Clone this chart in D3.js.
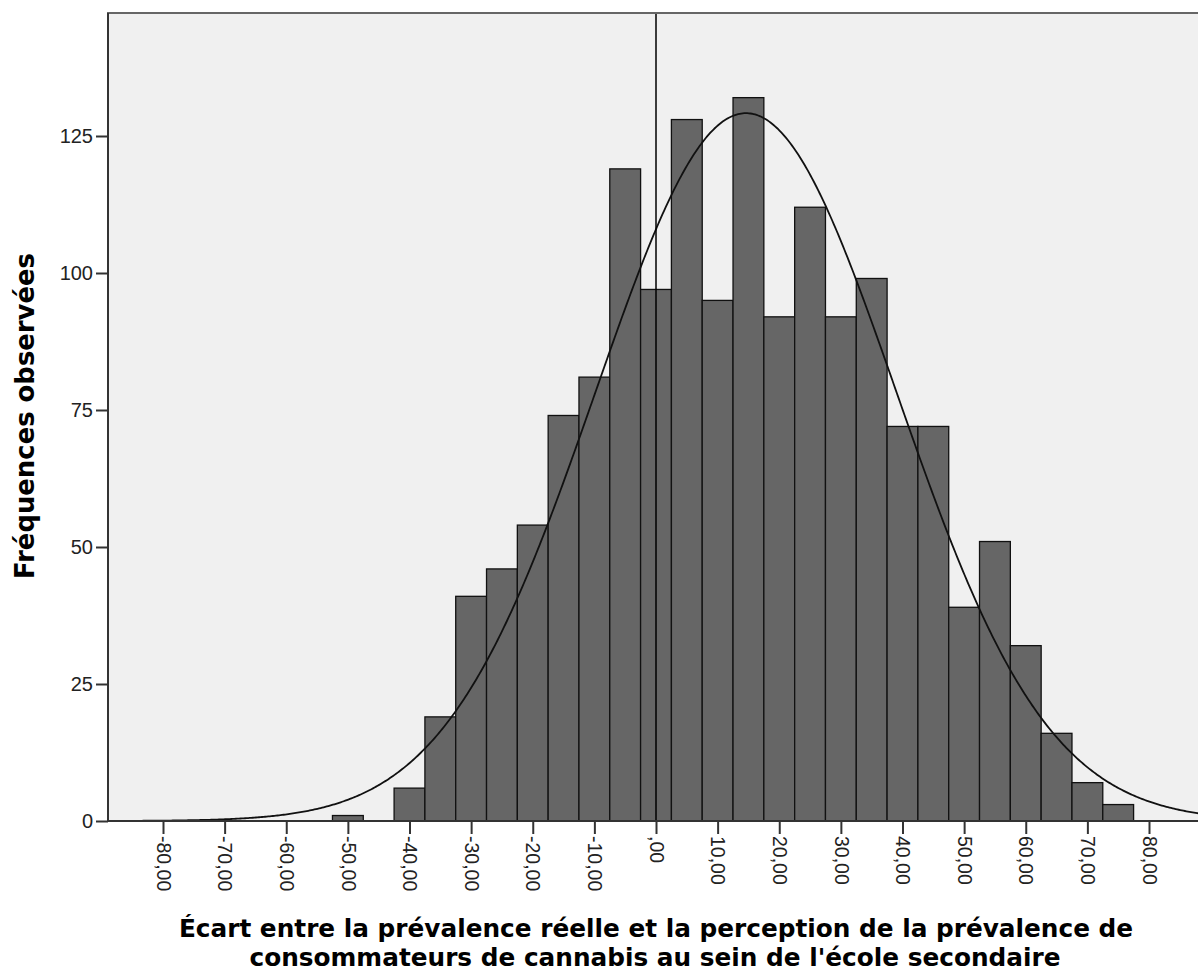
<!DOCTYPE html>
<html>
<head>
<meta charset="utf-8">
<script src="https://cdn.jsdelivr.net/npm/d3@7"></script>
<style>
  html, body { margin: 0; padding: 0; background: #ffffff; }
  svg { display: block; }
</style>
</head>
<body>
<svg id="chart" width="1198" height="974"></svg>
<script>
// ---- Data ----
const binCenters = [-50, -45, -40, -35, -30, -25, -20, -15, -10, -5, 0, 5, 10, 15, 20, 25, 30, 35, 40, 45, 50, 55, 60, 65, 70, 75];
const binCounts  = [1, 0, 6, 19, 41, 46, 54, 74, 81, 119, 97, 128, 95, 132, 92, 112, 92, 99, 72, 72, 39, 51, 32, 16, 7, 3];
const binWidth = 5;
const xTickValues = [-80, -70, -60, -50, -40, -30, -20, -10, 0, 10, 20, 30, 40, 50, 60, 70, 80];
const xTickLabels = ["-80,00", "-70,00", "-60,00", "-50,00", "-40,00", "-30,00", "-20,00", "-10,00", ",00", "10,00", "20,00", "30,00", "40,00", "50,00", "60,00", "70,00", "80,00"];
const yTickValues = [0, 25, 50, 75, 100, 125];
const normalMean = 14.6;
const normalSd = 24.4;
const yTitle = "Fréquences observées";
const xTitleLines = ["Écart entre la prévalence réelle et la perception de la prévalence de",
                     "consommateurs de cannabis au sein de l'école secondaire"];

// ---- Layout ----
const svg = d3.select("#chart");
const plotLeft = 108, plotTop = 13, plotBottom = 821, plotRight = 1215;
const x = d3.scaleLinear().domain([-80, 80]).range([163, 1149]);
const y = d3.scaleLinear().domain([0, 125]).range([821, 136]);

// plot background
svg.append("rect").attr("x", plotLeft).attr("y", plotTop)
  .attr("width", plotRight - plotLeft).attr("height", plotBottom - plotTop)
  .attr("fill", "#f0f0f0");

// bars
const bins = binCenters.map((c, i) => ({ c, n: binCounts[i] })).filter(d => d.n > 0);
svg.append("g").selectAll("rect").data(bins).join("rect")
  .attr("x", d => x(d.c - binWidth / 2))
  .attr("y", d => y(d.n))
  .attr("width", d => x(d.c + binWidth / 2) - x(d.c - binWidth / 2))
  .attr("height", d => y(0) - y(d.n))
  .attr("fill", "#666666")
  .attr("stroke", "#111111")
  .attr("stroke-width", 1.3);

// normal curve
const total = d3.sum(binCounts);
const xMin = x.invert(plotLeft), xMax = x.invert(plotRight);
const curvePts = d3.range(xMin, xMax + 0.25, 0.25).map(v => {
  const z = (v - normalMean) / normalSd;
  return [v, total * binWidth / (normalSd * Math.sqrt(2 * Math.PI)) * Math.exp(-0.5 * z * z)];
});
svg.append("path").datum(curvePts)
  .attr("d", d3.line().x(d => x(d[0])).y(d => y(d[1])).curve(d3.curveLinear))
  .attr("fill", "none").attr("stroke", "#111111").attr("stroke-width", 1.8);

// reference line at 0
svg.append("line").attr("x1", x(0)).attr("x2", x(0))
  .attr("y1", plotTop).attr("y2", plotBottom)
  .attr("stroke", "#000").attr("stroke-width", 1.5);

// frame top
svg.append("line").attr("x1", plotLeft - 1).attr("x2", 1198)
  .attr("y1", plotTop).attr("y2", plotTop)
  .attr("stroke", "#666").attr("stroke-width", 2.2);

// y axis
const yAxis = d3.axisLeft(y).tickValues(yTickValues).tickSize(12).tickPadding(3).tickFormat(d3.format("d"));
const gy = svg.append("g").attr("transform", `translate(${plotLeft},0)`).call(yAxis);
gy.select(".domain").remove();
gy.selectAll(".tick line").attr("stroke", "#333").attr("stroke-width", 2);
gy.selectAll(".tick text").attr("font-family", "'Liberation Sans', Arial, sans-serif")
  .attr("font-size", 20).attr("fill", "#222");
svg.append("line").attr("x1", plotLeft).attr("x2", plotLeft)
  .attr("y1", plotTop).attr("y2", plotBottom + 1)
  .attr("stroke", "#333").attr("stroke-width", 2);

// x axis
const xAxis = d3.axisBottom(x).tickValues(xTickValues).tickSize(13)
  .tickFormat((d, i) => xTickLabels[i]);
const gx = svg.append("g").attr("transform", `translate(0,${plotBottom})`).call(xAxis);
gx.select(".domain").remove();
gx.selectAll(".tick line").attr("stroke", "#333").attr("stroke-width", 2);
gx.selectAll(".tick text")
  .attr("font-family", "'Liberation Sans', Arial, sans-serif")
  .attr("font-size", 19.5).attr("fill", "#222")
  .attr("text-anchor", "start")
  .attr("transform", "rotate(90)")
  .attr("x", 15).attr("y", 0).attr("dy", "0.35em");
svg.append("line").attr("x1", plotLeft - 1).attr("x2", 1198)
  .attr("y1", plotBottom).attr("y2", plotBottom)
  .attr("stroke", "#333").attr("stroke-width", 2);

// titles
const titleFont = "'DejaVu Sans', Verdana, sans-serif";
const yt = svg.append("text")
  .attr("transform", "translate(34,416) rotate(-90)")
  .attr("text-anchor", "middle")
  .attr("font-family", titleFont).attr("font-weight", "bold")
  .attr("font-size", 20).attr("fill", "#000")
  .text(yTitle);
{
  const len = yt.node().getComputedTextLength();
  yt.attr("font-size", 20 * 326 / len);
}

// x title: one text element, two lines
const xt = svg.append("text")
  .attr("text-anchor", "middle")
  .attr("font-family", titleFont).attr("font-weight", "bold")
  .attr("font-size", 20).attr("fill", "#000");
const line1 = xt.append("tspan").attr("x", 656).attr("y", 937).text(xTitleLines[0]);
{
  const len = line1.node().getComputedTextLength();
  xt.attr("font-size", 20 * 955 / len);
}
xt.append("tspan").attr("x", 655).attr("y", 966).text(xTitleLines[1]);
</script>
</body>
</html>
